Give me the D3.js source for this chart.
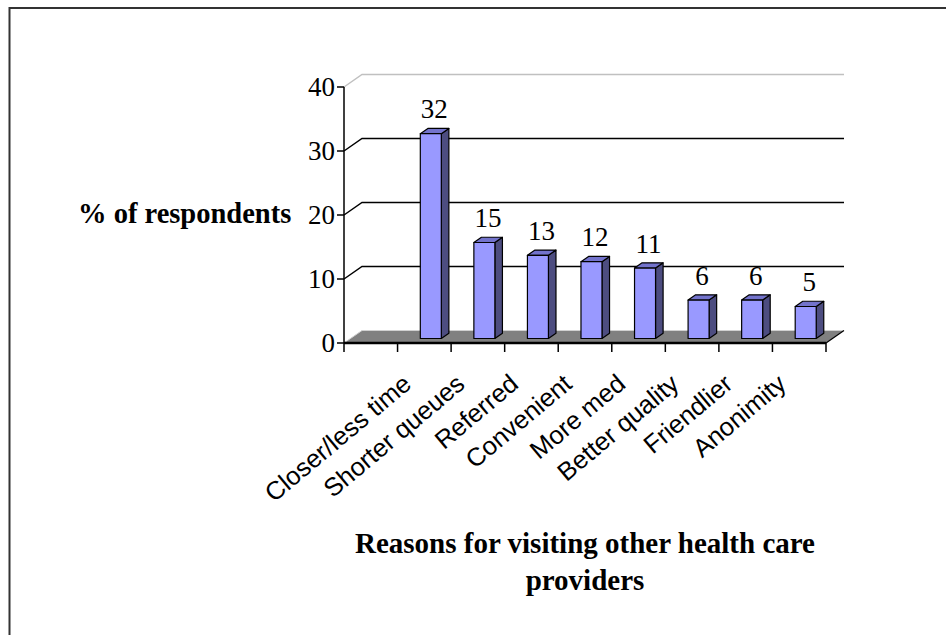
<!DOCTYPE html>
<html>
<head>
<meta charset="utf-8">
<script src="https://cdn.jsdelivr.net/npm/d3@7/dist/d3.min.js"></script>
<style>
  html, body { margin: 0; padding: 0; background: #fff; }
  svg { display: block; }
</style>
</head>
<body>
<svg id="chart" width="946" height="635"></svg>
<script>
// Categories along the floor; the first slot is left empty, as on the chart.
const categories = ["", "Closer/less time", "Shorter queues", "Referred", "Convenient",
                    "More med", "Better quality", "Friendlier", "Anonimity"];
// Percentage of respondents per reason.
const values = [null, 32, 15, 13, 12, 11, 6, 6, 5];
// Value axis ticks.
const yTicks = [0, 10, 20, 30, 40];
const yTickLabels = ["0", "10", "20", "30", "40"];

const yTitle = "% of respondents";
const xTitleLines = ["Reasons for visiting other health care", "providers"];

const svg = d3.select("#chart");

// Front plane of the plot.
const x = d3.scaleBand().domain(d3.range(categories.length)).range([344, 826]);
const y = d3.scaleLinear().domain([0, 40]).range([343, 87]);

// Oblique depth: z runs 0 (front) .. 1 (back wall).
const DX = 18, DY = -12.5;
const proj = (px, py, z) => [px + DX * z, py + DY * z];
const pts = arr => arr.map(p => p.join(",")).join(" ");

// Outer frame (top and left edges are visible).
svg.append("path")
  .attr("d", "M9.5,635 L9.5,8 L946,8")
  .attr("fill", "none").attr("stroke", "#333").attr("stroke-width", 2);

const x0 = x.range()[0], x1 = x.range()[1];

// Back wall gridlines with their diagonal returns on the side wall.
const grid = svg.append("g");
yTicks.filter(t => t > 0).forEach(t => {
  const col = t === 40 ? "#c0c0c0" : "#000";
  const a = proj(x0, y(t), 0), b = proj(x0, y(t), 1), c = proj(x1, y(t), 1);
  grid.append("polyline")
    .attr("points", pts([a, b, c]))
    .attr("fill", "none").attr("stroke", col).attr("stroke-width", 1.5);
});

// Floor.
const f0 = proj(x0, y(0), 0), f1 = proj(x1, y(0), 0), f2 = proj(x1, y(0), 1), f3 = proj(x0, y(0), 1);
svg.append("polygon").attr("points", pts([f0, f1, f2, f3])).attr("fill", "#808080");
svg.append("polyline").attr("points", pts([f0, f3, f2]))
  .attr("fill", "none").attr("stroke", "#d0d0d0").attr("stroke-width", 1);
svg.append("line")
  .attr("x1", f1[0]).attr("y1", f1[1]).attr("x2", f2[0]).attr("y2", f2[1])
  .attr("stroke", "#000").attr("stroke-width", 1.2);

// Value axis on the front plane.
const yAxis = svg.append("g");
yAxis.append("line")
  .attr("x1", x0).attr("x2", x0).attr("y1", y(40)).attr("y2", y(0))
  .attr("stroke", "#000").attr("stroke-width", 1.5);
yTicks.forEach((t, i) => {
  yAxis.append("line")
    .attr("x1", x0 - 7).attr("x2", x0).attr("y1", y(t)).attr("y2", y(t))
    .attr("stroke", "#000").attr("stroke-width", 1.5);
  yAxis.append("text")
    .attr("x", x0 - 9).attr("y", y(t)).attr("dy", "0.35em")
    .attr("text-anchor", "end")
    .attr("font-family", "'Liberation Serif', 'Times New Roman', serif")
    .attr("font-size", 27).attr("fill", "#000")
    .text(yTickLabels[i]);
});

// Category axis: front edge of the floor with tick marks at band boundaries.
const xAxis = svg.append("g");
xAxis.append("line")
  .attr("x1", x0).attr("x2", x1).attr("y1", y(0)).attr("y2", y(0))
  .attr("stroke", "#000").attr("stroke-width", 2.5);
const bounds = categories.map((c, i) => x(i)).concat([x1]);
bounds.forEach(b => {
  xAxis.append("line")
    .attr("x1", b).attr("x2", b).attr("y1", y(0)).attr("y2", y(0) + 9)
    .attr("stroke", "#000").attr("stroke-width", 1.5);
});

// 3D columns.
const BW = 21, Z0 = 0.36, Z1 = 0.78;
const bars = svg.append("g");
values.forEach((v, i) => {
  if (v == null) return;
  const cx = x(i) + x.bandwidth() / 2;
  const l = cx - BW / 2, r = cx + BW / 2;
  const yb = y(0), yt = y(v);
  const fA = proj(l, yb, Z0), fB = proj(r, yb, Z0), fC = proj(r, yt, Z0), fD = proj(l, yt, Z0);
  const bC = proj(r, yt, Z1), bD = proj(l, yt, Z1), bB = proj(r, yb, Z1);
  const style = s => s.attr("stroke", "#000").attr("stroke-width", 1.2).attr("stroke-linejoin", "round");
  style(bars.append("polygon").attr("points", pts([fB, bB, bC, fC])).attr("fill", "#4d4d80"));
  style(bars.append("polygon").attr("points", pts([fD, fC, bC, bD])).attr("fill", "#7373cc"));
  style(bars.append("polygon").attr("points", pts([fA, fB, fC, fD])).attr("fill", "#9999ff"));
});

// Value labels above each column.
const vl = svg.append("g");
values.forEach((v, i) => {
  if (v == null) return;
  const cx = x(i) + x.bandwidth() / 2;
  vl.append("text")
    .attr("x", cx + 10).attr("y", y(v) - 20)
    .attr("text-anchor", "middle")
    .attr("font-family", "'Liberation Serif', 'Times New Roman', serif")
    .attr("font-size", 27).attr("fill", "#000")
    .text(v);
});

// Rotated category labels, ending just below-left of each category centre.
const cl = svg.append("g");
categories.forEach((c, i) => {
  if (!c) return;
  const cx = x(i) + x.bandwidth() / 2 - 11.5;
  const cy = y(0) + 43.5;
  cl.append("text")
    .attr("transform", `translate(${cx},${cy}) rotate(-40)`)
    .attr("text-anchor", "end")
    .attr("font-family", "'Liberation Sans', Arial, sans-serif")
    .attr("font-size", 25.5).attr("fill", "#000")
    .text(c);
});

// Axis titles.
svg.append("text")
  .attr("x", 78).attr("y", 223)
  .attr("font-family", "'Liberation Serif', 'Times New Roman', serif")
  .attr("font-weight", "bold").attr("font-size", 28.5).attr("fill", "#000")
  .text(yTitle);

const xt = svg.append("text")
  .attr("text-anchor", "middle")
  .attr("font-family", "'Liberation Serif', 'Times New Roman', serif")
  .attr("font-weight", "bold").attr("font-size", 29).attr("fill", "#000");
xTitleLines.forEach((line, k) => {
  xt.append("tspan").attr("x", 585).attr("y", 553 + k * 37).text(line);
});
</script>
</body>
</html>
